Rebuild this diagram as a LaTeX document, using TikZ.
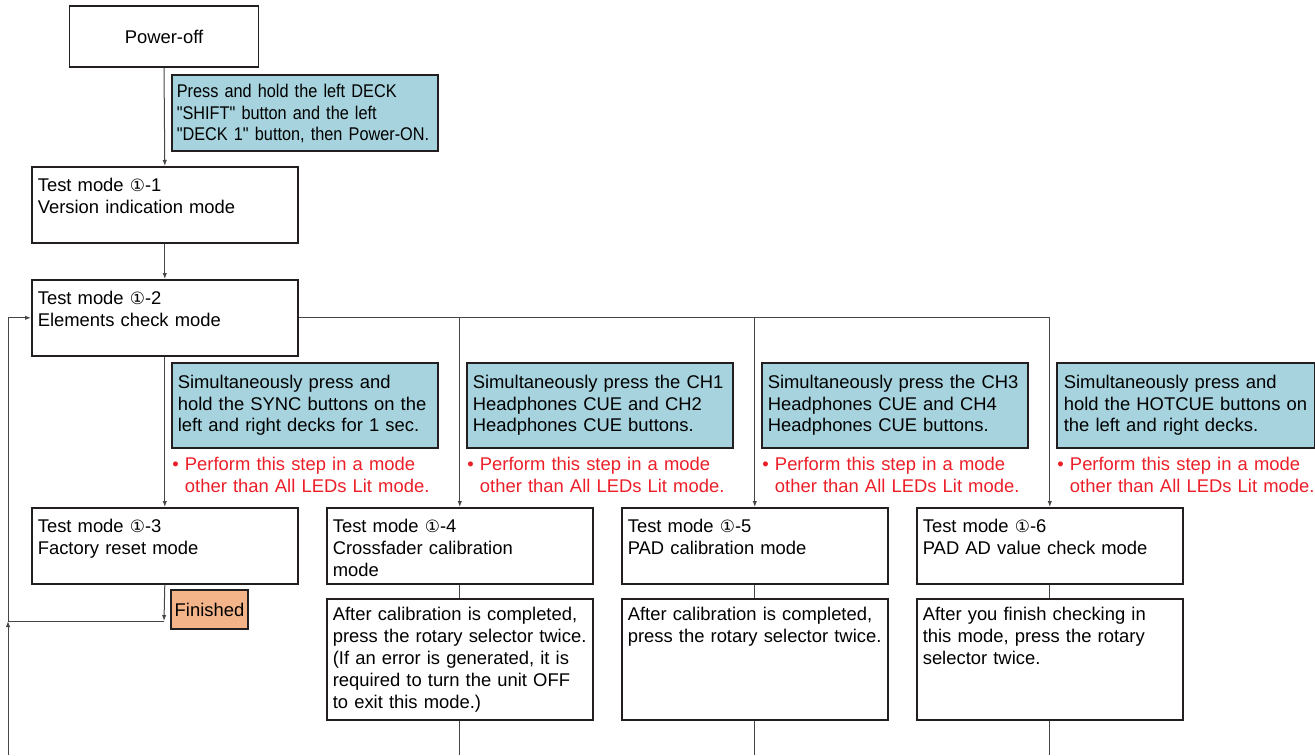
\documentclass[tikz,border=0pt]{standalone}
\usepackage{fontspec}
\setmainfont{Liberation Sans}
\newfontfamily\simbolos{DejaVu Sans}[Scale=0.92]
\newfontfamily\estrecha{Liberation Sans}[FakeStretch=0.885]
\usepackage{xcolor}
\usetikzlibrary{arrows.meta, positioning}

\definecolor{celeste}{RGB}{166,211,221}
\definecolor{salmon}{RGB}{244,180,138}
\definecolor{rojo}{RGB}{236,30,40}
\definecolor{borde}{RGB}{35,31,32}
\definecolor{linea}{RGB}{70,70,70}

\newcommand{\uno}{{\simbolos ①}}

\begin{document}
\begin{tikzpicture}[
        x=0.5pt, y=-0.5pt,
        font=\fontsize{9.2pt}{10.9pt}\selectfont,
        inicio/.style={
            rectangle,
            draw=borde,
            line width=0.8pt,
            minimum width=94.5pt,
            minimum height=30.5pt
        },
        modo/.style={
            rectangle,
            draw=borde,
            line width=0.8pt,
            fill=white,
            align=left,
            text width=127pt,
            inner xsep=3pt,
            inner ysep=5.5pt,
            text height=7pt,
            text depth=20pt,
            anchor=north west
        },
        final/.style={
            modo,
            inner ysep=4pt,
            text depth=45.5pt
        },
        aviso/.style={
            modo,
            fill=celeste,
            inner ysep=5.75pt,
            text depth=24pt
        },
        nota/.style={
            text=rojo,
            align=left,
            text width=140pt,
            inner sep=0pt,
            anchor=base west
        },
        terminado/.style={
            rectangle,
            draw=borde,
            line width=0.8pt,
            fill=salmon,
            minimum width=38.5pt,
            minimum height=19.5pt,
            inner sep=1pt
        },
        conector/.style={
            line width=0.5pt,
            draw=linea
        },
        flecha/.style={
            conector,
            -{Latex[length=3pt,width=2.2pt]}
        }
    ]
    \useasboundingbox (0,0) rectangle (1315,755);

    % columna izquierda
    \node[inicio] (apagado) at (164,36.5) {Power-off};

    \node[aviso, text width=128pt, inner xsep=2.5pt, inner ysep=4.2pt, text depth=22.6pt] (pulsar1) at (171,74) {\estrecha
        Press and hold the left DECK\\
        "SHIFT" button and the left\\
        "DECK 1" button, then Power-ON.
    };

    \node[modo] (modo11) at (31,166) {
        Test mode \uno-1\\
        Version indication mode
    };

    \node[modo] (modo12) at (31,279) {
        Test mode \uno-2\\
        Elements check mode
    };

    \node[modo] (modo13) at (31,507) {
        Test mode \uno-3\\
        Factory reset mode
    };

    \node[terminado] (listo) at (209.5,609.5) {Finished};

    % condiciones de entrada
    \node[aviso] (pulsar2) at (171,362) {
        Simultaneously press and\\
        hold the SYNC buttons on the\\
        left and right decks for 1 sec.
    };

    \node[aviso] (pulsar3) at (466,362) {
        Simultaneously press the CH1\\
        Headphones CUE and CH2\\
        Headphones CUE buttons.
    };

    \node[aviso] (pulsar4) at (761,362) {
        Simultaneously press the CH3\\
        Headphones CUE and CH4\\
        Headphones CUE buttons.
    };

    \node[aviso, text width=122pt, inner xsep=3.5pt] (pulsar5) at (1056,362) {
        Simultaneously press and\\
        hold the HOTCUE buttons on\\
        the left and right decks.
    };

    \foreach \n in {2,3,4,5}{
        \node[nota] (nota\n) at ([shift={(1,22)}]pulsar\n.south west) {
            •~Perform this step in a mode\\
            \hphantom{•~}other than All LEDs Lit mode.
        };
    }

    % modos de calibracion
    \node[modo] (modo14) at (326,507) {
        Test mode \uno-4\\
        Crossfader calibration\\
        mode
    };

    \node[modo] (modo15) at (621,507) {
        Test mode \uno-5\\
        PAD calibration mode
    };

    \node[modo] (modo16) at (916,507) {
        Test mode \uno-6\\
        PAD AD value check mode
    };

    \node[final] (fin14) at (326,598) {
        After calibration is completed,\\
        press the rotary selector twice.\\
        (If an error is generated, it is\\
        required to turn the unit OFF\\
        to exit this mode.)
    };

    \node[final] (fin15) at (621,598) {
        After calibration is completed,\\
        press the rotary selector twice.
    };

    \node[final] (fin16) at (916,598) {
        After you finish checking in\\
        this mode, press the rotary\\
        selector twice.
    };

    % puntos de paso
    \coordinate (retorno) at (164,621);
    \coordinate (esquina) at (8,621);
    \coordinate (entrada) at (8,755);

    \draw[flecha] (apagado.south) -- (modo11.north);
    \draw[flecha] (modo11.south) -- (modo12.north);
    \draw[flecha] (modo12.south) -- (modo13.north);
    \draw[flecha] (modo13.south) -- (retorno);
    \draw[flecha] (retorno) -- (esquina) -- (esquina |- modo12.west) -- (modo12.west);
    \draw[flecha] (entrada) -- (esquina);

    \draw[conector] (modo12.east) -- (modo16.north |- modo12.east);

    \foreach \n in {4,5,6}{
        \draw[flecha] (modo1\n.north |- modo12.east) -- (modo1\n.north);
        \draw[conector] (modo1\n.south) -- (fin1\n.north);
        \draw[conector] (fin1\n.south) -- (fin1\n.south |- entrada);
    }

    \end{tikzpicture}
\end{document}
